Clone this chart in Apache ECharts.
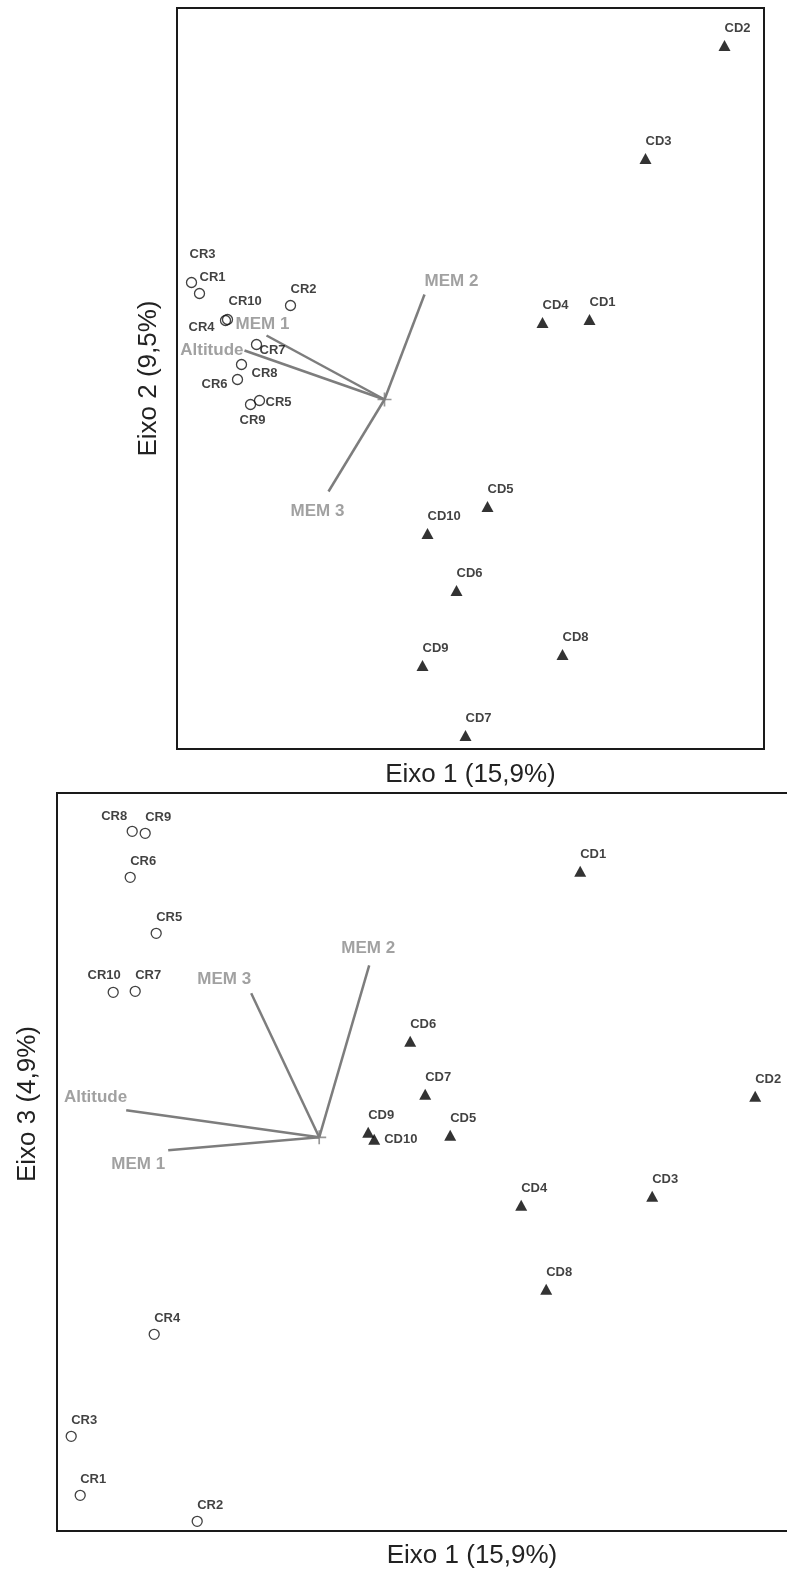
<!DOCTYPE html>
<html>
<head>
<meta charset="utf-8">
<script src="https://cdn.jsdelivr.net/npm/echarts@6/dist/echarts.min.js"></script>
<style>
html,body{margin:0;padding:0;background:#fff;}
#chart{width:787px;height:1573px;}
</style>
</head>
<body>
<div id="chart"></div>
<script>
// ---------- data (ordination scores) ----------
const crNames = ['CR1','CR2','CR3','CR4','CR5','CR6','CR7','CR8','CR9','CR10'];
const cdNames = ['CD1','CD2','CD3','CD4','CD5','CD6','CD7','CD8','CD9','CD10'];
const vecNames = ['MEM 1','MEM 2','MEM 3','Altitude'];

// Panel 1: Eixo 1 x Eixo 2
const p12_CR = [[-1.85,1.06],[-0.94,0.94],[-1.93,1.17],[-1.59,0.79],[-1.25,-0.01],[-1.47,0.20],[-1.28,0.55],[-1.43,0.35],[-1.34,-0.05],[-1.57,0.80]];
const p12_CD = [[2.05,0.80],[3.40,3.54],[2.61,2.41],[1.58,0.77],[1.03,-1.07],[0.72,-1.91],[0.81,-3.36],[1.78,-2.55],[0.38,-2.66],[0.43,-1.34]];
const p12_VEC = [[-1.18,0.64],[0.40,1.05],[-0.56,-0.92],[-1.40,0.49]];

// Panel 2: Eixo 1 x Eixo 3
const p13_CR = [[-2.39,-3.58],[-1.22,-3.84],[-2.48,-2.99],[-1.65,-1.97],[-1.63,2.04],[-1.89,2.60],[-1.84,1.46],[-1.87,3.06],[-1.74,3.04],[-2.06,1.45]];
const p13_CD = [[2.61,2.66],[4.36,0.41],[3.33,-0.59],[2.02,-0.68],[1.31,0.02],[0.91,0.96],[1.06,0.43],[2.27,-1.52],[0.49,0.05],[0.55,-0.02]];
const p13_VEC = [[-1.51,-0.13],[0.50,1.72],[-0.68,1.44],[-1.93,0.27]];

const axisTitles = {x: 'Eixo 1 (15,9%)', y12: 'Eixo 2 (9,5%)', y13: 'Eixo 3 (4,9%)'};

// ---------- styling ----------
const FONT = 'Liberation Sans';
const PT_FONT = "'Liberation Sans Narrow','Arial Narrow','Liberation Sans'";
const VEC_LINE = '#7d7d7d';
const VEC_TEXT = '#8a8a8a';

// label placement [dx, dy, align] relative to the marker centre
const lab12 = {
  CR3:[-2,-28,'left'], CR4:[-11,7,'right'], CR7:[3,6,'left'], CR8:[10,9,'left'],
  CR6:[-10,5,'right'], CR5:[6,2,'left'], CR9:[2,16,'center'], CR10:[1,-18,'left'],
  'MEM 1':[-4,-11,'center'], 'MEM 2':[0,-13,'left'], 'MEM 3':[-11,20,'center'], 'Altitude':[-1,0,'right']
};
const lab13 = {
  CR8:[-5,-15,'right'], CR10:[-9,-17,'center'], CD10:[10,0,'left'],
  'MEM 1':[-3,14,'right'], 'MEM 2':[-1,-17,'center'], 'MEM 3':[0,-14,'right'], 'Altitude':[1,-13,'right']
};

function ptLabel(name, map, def) {
  const s = map[name] || def;
  return {show:true, formatter:name, position:['50%','50%'], align:s[2], verticalAlign:'middle',
    offset:[s[0], s[1]], color:'#111', fontFamily:PT_FONT, fontWeight:'bold', fontSize:13};
}
function vecLabel(name, map) {
  const s = map[name];
  return {show:true, formatter:name, position:['50%','50%'], align:s[2], verticalAlign:'middle',
    offset:[s[0], s[1]], color:VEC_TEXT, fontFamily:FONT, fontWeight:'bold', fontSize:17};
}

function panelSeries(idx, crData, cdData, vecData, map) {
  const s = [];
  vecData.forEach((v, i) => {
    s.push({type:'line', xAxisIndex:idx, yAxisIndex:idx, data:[[0,0], v], symbol:'none',
      lineStyle:{color:VEC_LINE, width:2.5}, silent:true, z:1});
  });
  s.push({type:'scatter', xAxisIndex:idx, yAxisIndex:idx, symbol:'path://M0,4.4H10V5.6H0Z M4.4,0H5.6V10H4.4Z',
    symbolSize:14, itemStyle:{color:VEC_LINE}, data:[[0,0]], silent:true, z:2});
  s.push({type:'scatter', xAxisIndex:idx, yAxisIndex:idx, symbolSize:1, itemStyle:{color:'rgba(0,0,0,0)'},
    data: vecData.map((v, i) => ({value:v, name:vecNames[i], label:vecLabel(vecNames[i], map)})), z:3});
  s.push({type:'scatter', xAxisIndex:idx, yAxisIndex:idx, symbol:'circle', symbolSize:10,
    itemStyle:{color:'rgba(255,255,255,0)', borderColor:'#111', borderWidth:1.3},
    data: crData.map((v, i) => ({value:v, name:crNames[i], label:ptLabel(crNames[i], map, [0,-16,'left'])})), z:4});
  s.push({type:'scatter', xAxisIndex:idx, yAxisIndex:idx, symbol:'triangle', symbolSize:[12,11],
    itemStyle:{color:'#000'},
    data: cdData.map((v, i) => ({value:v, name:cdNames[i], label:ptLabel(cdNames[i], map, [0,-17,'left'])})), z:4});
  return s;
}

const hiddenAxis = {type:'value', axisLine:{show:false}, axisTick:{show:false}, axisLabel:{show:false}, splitLine:{show:false}};
const titleStyle = {fontFamily:FONT, fontSize:26, color:'#222'};

const option = {
  animation:false,
  backgroundColor:'#fff',
  grid:[
    {left:177, top:8, width:587, height:741, show:true, borderColor:'#1a1a1a', borderWidth:2, backgroundColor:'transparent', outerBoundsMode:'none', containLabel:false},
    {left:57, top:793, width:830, height:738, show:true, borderColor:'#1a1a1a', borderWidth:2, backgroundColor:'transparent', outerBoundsMode:'none', containLabel:false}
  ],
  xAxis:[
    Object.assign({}, hiddenAxis, {gridIndex:0, min:-2.075, max:3.795, name:axisTitles.x, nameLocation:'middle', nameGap:13, nameTextStyle:titleStyle}),
    Object.assign({}, hiddenAxis, {gridIndex:1, min:-2.622, max:5.678, name:axisTitles.x, nameLocation:'middle', nameGap:12, nameTextStyle:titleStyle})
  ],
  yAxis:[
    Object.assign({}, hiddenAxis, {gridIndex:0, min:-3.495, max:3.915, name:axisTitles.y12, nameLocation:'middle', nameGap:15, nameTextStyle:titleStyle}),
    Object.assign({}, hiddenAxis, {gridIndex:1, min:-3.937, max:3.443})
  ],
  graphic:[
    {type:'text', x:28, y:1104, rotation:Math.PI/2,
      style:{text:axisTitles.y13, font:'26px "Liberation Sans"', fill:'#222', textAlign:'center', textVerticalAlign:'middle'}}
  ],
  series: panelSeries(0, p12_CR, p12_CD, p12_VEC, lab12).concat(panelSeries(1, p13_CR, p13_CD, p13_VEC, lab13))
};

const chart = echarts.init(document.getElementById('chart'), null, {renderer:'canvas'});
chart.setOption(option);
</script>
</body>
</html>
